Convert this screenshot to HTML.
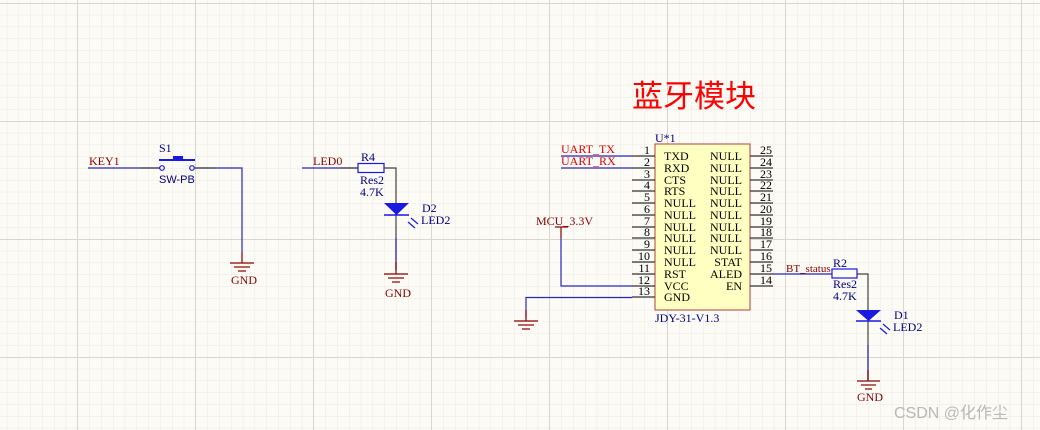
<!DOCTYPE html>
<html><head><meta charset="utf-8"><style>
html,body{margin:0;padding:0;background:#fdfbf6;}
svg{display:block}
text{font-family:"Liberation Serif",serif;font-size:12px}
</style></head><body>
<svg width="1040" height="430" viewBox="0 0 1040 430" xmlns="http://www.w3.org/2000/svg">
<defs>
<pattern id="minor" x="6.8" y="3" width="11.8" height="11.8" patternUnits="userSpaceOnUse">
<path d="M0 0V11.8M0 0H11.8" stroke="#ebe8e2" stroke-width="1" fill="none"/>
</pattern>
<pattern id="major" x="77" y="3" width="118" height="118" patternUnits="userSpaceOnUse">
<path d="M0.5 0V118M0 0.5H118" stroke="#d8d6d2" stroke-width="1" fill="none"/>
</pattern>
</defs>
<rect width="1040" height="430" fill="#fdfbf6"/>
<rect width="1040" height="430" fill="url(#minor)"/>
<rect width="1040" height="430" fill="url(#major)"/>

<!-- Title -->
<text x="632" y="107" font-family="'Liberation Sans','Noto Sans CJK SC',sans-serif" style="font-family:'Liberation Sans','Noto Sans CJK SC',sans-serif;font-size:31px" fill="#ff0000">蓝牙模块</text>

<!-- Switch section -->
<line x1="88" y1="168" x2="160" y2="168" stroke="#2a2ab8" stroke-width="1.2"/>
<line x1="140" y1="168" x2="160" y2="168" stroke="#444" stroke-width="1.2"/>
<text x="89" y="165" fill="#8b0000">KEY1</text>
<circle cx="162" cy="168" r="2.3" fill="none" stroke="#1a1ae0" stroke-width="1.2"/>
<circle cx="192" cy="168" r="2.3" fill="none" stroke="#1a1ae0" stroke-width="1.2"/>
<line x1="159" y1="160" x2="195" y2="160" stroke="#1a1ae0" stroke-width="2"/>
<rect x="173" y="156" width="10" height="4" fill="#1a1ae0"/>
<text x="159" y="152" fill="#000080">S1</text>
<text x="159" y="183" style="font-family:'Liberation Sans',sans-serif;font-size:11px" fill="#000080">SW-PB</text>
<polyline points="195,168 242,168 242,252" fill="none" stroke="#2a2ab8" stroke-width="1.2"/>
<line x1="195" y1="168" x2="215" y2="168" stroke="#444" stroke-width="1.2"/>
<g stroke="#8b0000" stroke-width="1.2"><line x1="242" y1="252" x2="242" y2="263"/><line x1="230" y1="263" x2="254" y2="263"/><line x1="234" y1="267" x2="250" y2="267"/><line x1="238" y1="271" x2="246" y2="271"/></g>
<text x="231" y="284" fill="#8b0000">GND</text>

<!-- LED0 section -->
<line x1="302" y1="168" x2="358" y2="168" stroke="#2a2ab8" stroke-width="1.2"/>
<line x1="340" y1="168" x2="358" y2="168" stroke="#444" stroke-width="1.2"/>
<text x="313" y="165" fill="#8b0000">LED0</text>
<rect x="358" y="163.5" width="26" height="9" fill="#fdfbf6" stroke="#1a1ae0" stroke-width="1.2"/>
<text x="361" y="161" fill="#000080">R4</text>
<text x="360" y="184" fill="#000080">Res2</text>
<text x="360" y="196" fill="#000080">4.7K</text>
<polyline points="384,168 396,168 396,270" fill="none" stroke="#444" stroke-width="1.2"/>
<line x1="396" y1="238" x2="396" y2="270" stroke="#2a2ab8" stroke-width="1.2"/>
<polygon points="384,203 409,203 396.5,215" fill="#1a1ae0"/>
<line x1="384" y1="215" x2="409" y2="215" stroke="#1a1ae0" stroke-width="1.5"/>
<g stroke="#1a1ae0" stroke-width="1.2"><line x1="411" y1="218" x2="418" y2="224"/><line x1="408" y1="222" x2="415" y2="228"/></g>
<text x="422" y="212" fill="#000080">D2</text>
<text x="421" y="224" fill="#000080">LED2</text>
<g stroke="#8b0000" stroke-width="1.2"><line x1="396" y1="262" x2="396" y2="274"/><line x1="384" y1="274" x2="408" y2="274"/><line x1="388" y1="278" x2="404" y2="278"/><line x1="392" y1="282" x2="400" y2="282"/></g>
<text x="385" y="297" fill="#8b0000">GND</text>

<!-- IC -->
<rect x="655" y="144" width="95" height="166" fill="#ffffc2" stroke="#b0413e" stroke-width="1"/>
<text x="655" y="142" fill="#000080">U*1</text>
<text x="655" y="322" fill="#000080">JDY-31-V1.3</text>
<g stroke="#333" stroke-width="1.2">
<line x1="632" y1="156" x2="655" y2="156"/><line x1="632" y1="168" x2="655" y2="168"/><line x1="632" y1="180" x2="655" y2="180"/><line x1="632" y1="191" x2="655" y2="191"/><line x1="632" y1="203" x2="655" y2="203"/><line x1="632" y1="215" x2="655" y2="215"/><line x1="632" y1="227" x2="655" y2="227"/><line x1="632" y1="238" x2="655" y2="238"/><line x1="632" y1="250" x2="655" y2="250"/><line x1="632" y1="262" x2="655" y2="262"/><line x1="632" y1="274" x2="655" y2="274"/><line x1="632" y1="286" x2="655" y2="286"/><line x1="632" y1="297" x2="655" y2="297"/>
<line x1="750" y1="156" x2="773" y2="156"/><line x1="750" y1="168" x2="773" y2="168"/><line x1="750" y1="180" x2="773" y2="180"/><line x1="750" y1="191" x2="773" y2="191"/><line x1="750" y1="203" x2="773" y2="203"/><line x1="750" y1="215" x2="773" y2="215"/><line x1="750" y1="227" x2="773" y2="227"/><line x1="750" y1="238" x2="773" y2="238"/><line x1="750" y1="250" x2="773" y2="250"/><line x1="750" y1="262" x2="773" y2="262"/><line x1="750" y1="274" x2="773" y2="274"/><line x1="750" y1="286" x2="773" y2="286"/>
</g>
<g fill="#000" text-anchor="end">
<text x="650" y="154">1</text><text x="650" y="166">2</text><text x="650" y="178">3</text><text x="650" y="189">4</text><text x="650" y="201">5</text><text x="650" y="213">6</text><text x="650" y="225">7</text><text x="650" y="236">8</text><text x="650" y="248">9</text><text x="650" y="260">10</text><text x="650" y="272">11</text><text x="650" y="284">12</text><text x="650" y="295">13</text>
</g>
<g fill="#000">
<text x="760" y="154">25</text><text x="760" y="166">24</text><text x="760" y="178">23</text><text x="760" y="189">22</text><text x="760" y="201">21</text><text x="760" y="213">20</text><text x="760" y="225">19</text><text x="760" y="236">18</text><text x="760" y="248">17</text><text x="760" y="260">16</text><text x="760" y="272">15</text><text x="760" y="284">14</text>
</g>
<g fill="#000">
<text x="664" y="160">TXD</text><text x="664" y="172">RXD</text><text x="664" y="184">CTS</text><text x="664" y="195">RTS</text><text x="664" y="207">NULL</text><text x="664" y="219">NULL</text><text x="664" y="231">NULL</text><text x="664" y="242">NULL</text><text x="664" y="254">NULL</text><text x="664" y="266">NULL</text><text x="664" y="278">RST</text><text x="664" y="290">VCC</text><text x="664" y="301">GND</text>
</g>
<g fill="#000" text-anchor="end">
<text x="742" y="160">NULL</text><text x="742" y="172">NULL</text><text x="742" y="184">NULL</text><text x="742" y="195">NULL</text><text x="742" y="207">NULL</text><text x="742" y="219">NULL</text><text x="742" y="231">NULL</text><text x="742" y="242">NULL</text><text x="742" y="254">NULL</text><text x="742" y="266">STAT</text><text x="742" y="278">ALED</text><text x="742" y="290">EN</text>
</g>
<!-- UART -->
<line x1="561" y1="156" x2="632" y2="156" stroke="#2a2ab8" stroke-width="1.2"/>
<line x1="561" y1="168" x2="632" y2="168" stroke="#2a2ab8" stroke-width="1.2"/>
<text x="561" y="153" fill="#e00000">UART_TX</text>
<text x="561" y="165" fill="#e00000">UART_RX</text>
<!-- MCU -->
<text x="536" y="225" fill="#8b0000">MCU_3.3V</text>
<g stroke="#8b0000" stroke-width="1.2"><line x1="555" y1="227" x2="568" y2="227"/><line x1="561" y1="227" x2="561" y2="238"/></g>
<polyline points="561,238 561,286 632,286" fill="none" stroke="#2a2ab8" stroke-width="1.2"/>
<polyline points="632,297.5 526,297.5 526,318" fill="none" stroke="#2a2ab8" stroke-width="1.2"/>
<g stroke="#8b0000" stroke-width="1.2"><line x1="526" y1="310" x2="526" y2="321"/><line x1="514" y1="321" x2="538" y2="321"/><line x1="518" y1="325" x2="534" y2="325"/><line x1="522" y1="329" x2="530" y2="329"/></g>

<!-- BT status -->
<line x1="773" y1="274" x2="832" y2="274" stroke="#2a2ab8" stroke-width="1.2"/>
<text x="786" y="272" fill="#8b0000" style="font-size:11px">BT_status</text>
<rect x="832" y="269" width="25" height="9" fill="#fdfbf6" stroke="#1a1ae0" stroke-width="1.2"/>
<text x="833" y="267" fill="#000080">R2</text>
<text x="833" y="288" fill="#000080">Res2</text>
<text x="833" y="300" fill="#000080">4.7K</text>
<polyline points="857,274 868,274 868,380" fill="none" stroke="#444" stroke-width="1.2"/>
<line x1="868" y1="345" x2="868" y2="380" stroke="#2a2ab8" stroke-width="1.2"/>
<polygon points="856,310 881,310 868.5,321" fill="#1a1ae0"/>
<line x1="856" y1="321" x2="881" y2="321" stroke="#1a1ae0" stroke-width="1.5"/>
<g stroke="#1a1ae0" stroke-width="1.2"><line x1="883" y1="324" x2="890" y2="330"/><line x1="880" y1="328" x2="887" y2="334"/></g>
<text x="894" y="319" fill="#000080">D1</text>
<text x="893" y="331" fill="#000080">LED2</text>
<g stroke="#8b0000" stroke-width="1.2"><line x1="868" y1="370" x2="868" y2="381"/><line x1="857" y1="381" x2="880" y2="381"/><line x1="861" y1="385" x2="876" y2="385"/><line x1="865" y1="389" x2="872" y2="389"/></g>
<text x="857" y="401" fill="#8b0000">GND</text>

<text x="894" y="418" style="font-family:'Liberation Sans','Noto Sans CJK SC',sans-serif;font-size:16px" fill="#b8b8b8">CSDN @化作尘</text>
</svg>
</body></html>
